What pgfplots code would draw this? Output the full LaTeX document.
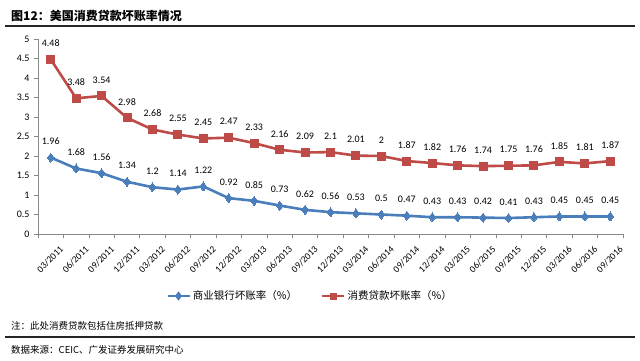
\documentclass[border=0pt]{standalone}
\usepackage{pgfplots}
\usepackage{pgfplotstable}
\pgfplotsset{compat=1.18}
\usepackage{fontspec}
\setmainfont{Carlito}
\newfontfamily\cjk{Noto Sans CJK SC}

\definecolor{bl}{RGB}{74,126,187}
\definecolor{rd}{RGB}{190,75,72}
\definecolor{axc}{RGB}{134,134,134}

\pgfplotstableread{
x bank blab cons clab
0 1.96 1.96 4.48 4.48
1 1.68 1.68 3.48 3.48
2 1.56 1.56 3.54 3.54
3 1.34 1.34 2.98 2.98
4 1.2 1.2 2.68 2.68
5 1.14 1.14 2.55 2.55
6 1.22 1.22 2.45 2.45
7 0.92 0.92 2.47 2.47
8 0.85 0.85 2.33 2.33
9 0.73 0.73 2.16 2.16
10 0.62 0.62 2.09 2.09
11 0.56 0.56 2.1 2.1
12 0.53 0.53 2.01 2.01
13 0.5 0.5 2 2
14 0.47 0.47 1.87 1.87
15 0.43 0.43 1.82 1.82
16 0.43 0.43 1.76 1.76
17 0.42 0.42 1.74 1.74
18 0.41 0.41 1.75 1.75
19 0.43 0.43 1.76 1.76
20 0.45 0.45 1.85 1.85
21 0.45 0.45 1.81 1.81
22 0.45 0.45 1.87 1.87
}\datatable

\begin{document}
\begin{tikzpicture}[x=1pt,y=1pt]
\path (0,0) rectangle (640,360);
\node[anchor=west, inner sep=0pt, font=\cjk\bfseries\fontsize{12}{14}\selectfont] at (11,344) {图12：美国消费贷款坏账率情况};
\draw[line width=1.2pt, black!85] (5,334) -- (635,334);
\begin{axis}[
  at={(38pt,126pt)}, anchor=south west,
  scale only axis, width=585pt, height=195pt,
  xmin=-0.5, xmax=22.5, ymin=0, ymax=5,
  axis lines*=left,
  axis line style={axc, line width=0.6pt},
  tick style={axc, line width=0.6pt},
  tick align=outside,
  major tick length=4pt,
  minor tick length=4pt,
  ytick={0,0.5,1,1.5,2,2.5,3,3.5,4,4.5,5},
  yticklabels={0,0.5,1,1.5,2,2.5,3,3.5,4,4.5,5},
  yticklabel style={font=\fontsize{10}{12}\selectfont, xshift=-1pt},
  xtick={0,...,22},
  xticklabels={03/2011,06/2011,09/2011,12/2011,03/2012,06/2012,09/2012,12/2012,03/2013,06/2013,09/2013,12/2013,03/2014,06/2014,09/2014,12/2014,03/2015,06/2015,09/2015,12/2015,03/2016,06/2016,09/2016},
  major x tick style={draw=none},
  minor xtick={-0.5,0.5,...,22.5},
  xticklabel style={rotate=45, anchor=north east, font=\fontsize{9.5}{11}\selectfont, inner sep=1pt, xshift=2pt, yshift=-10pt},
  clip=false,
  point meta=explicit symbolic,
  nodes near coords,
  nodes near coords style={font=\fontsize{10}{12}\selectfont, anchor=center, yshift=16pt, text=black},
  legend style={at={(0.465,-0.318)}, anchor=center, draw=none, legend columns=2,
    font=\cjk\fontsize{10.5}{12}\selectfont, inner sep=0pt,
    /tikz/every even column/.append style={column sep=22pt}},
  legend image code/.code={\draw[mark repeat=2, mark phase=2, mark options={scale=0.55}] plot coordinates {(0pt,0pt) (11pt,0pt) (22pt,0pt)};},
]
\addplot[color=bl, line width=2.6pt, mark=diamond*, mark size=4.5pt, mark options={line width=0pt, fill=bl}] table[x=x, y=bank, meta=blab] {\datatable};
\addlegendentry{商业银行坏账率（\%）}
\addplot[color=rd, line width=2.6pt, mark=square*, mark size=4pt, mark options={line width=0pt, fill=rd}] table[x=x, y=cons, meta=clab] {\datatable};
\addlegendentry{消费贷款坏账率（\%）}
\end{axis}
\node[anchor=west, inner sep=0pt, font=\cjk\fontsize{9.5}{11}\selectfont] at (11,34) {注：此处消费贷款包括住房抵押贷款};
\draw[line width=1.2pt, black!85] (5,23) -- (635,23);
\node[anchor=west, inner sep=0pt, font=\cjk\fontsize{9.5}{11}\selectfont] at (11,10) {数据来源：CEIC、广发证券发展研究中心};
\end{tikzpicture}
\end{document}
